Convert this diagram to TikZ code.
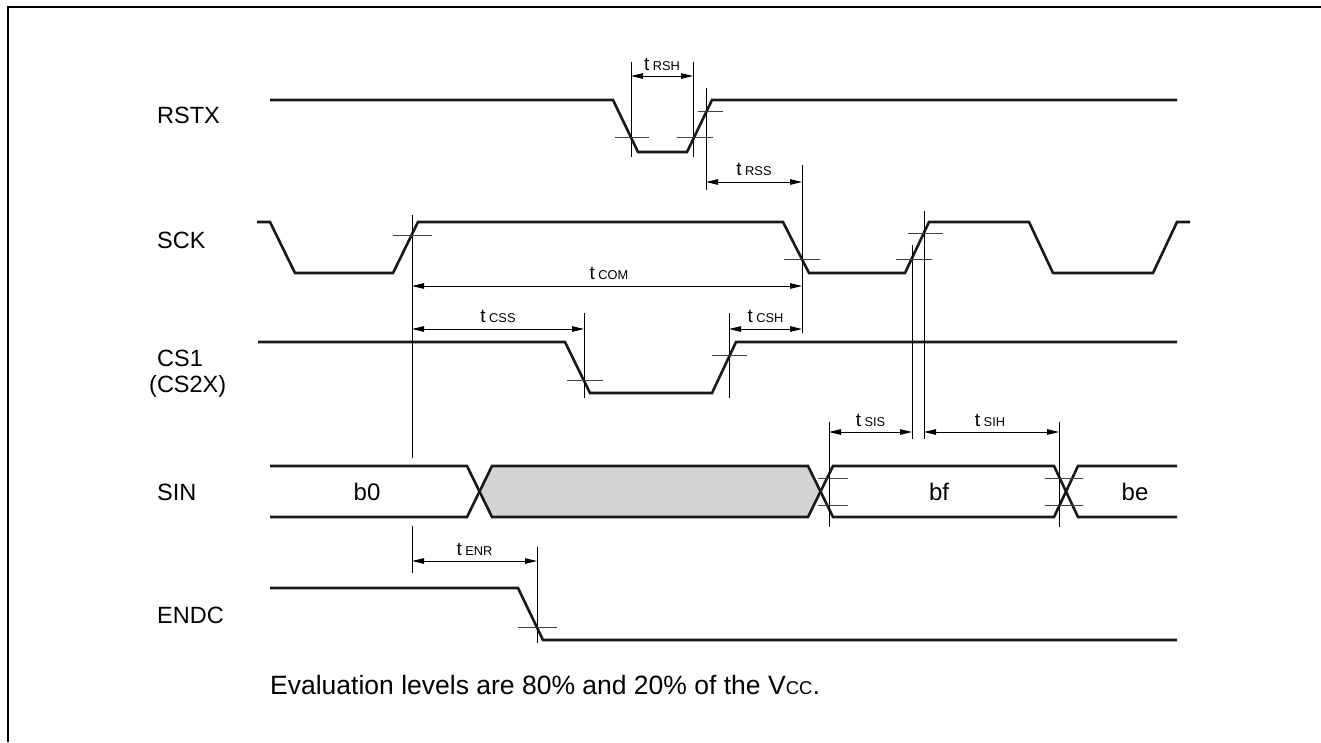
\documentclass[tikz,border=0pt]{standalone}
\usepackage{fontspec}
\setmainfont{Liberation Sans}
\usetikzlibrary{arrows.meta}
\newcommand\mytim[1]{{\fontsize{19}{21}\selectfont t}\hspace{3.5pt}{\fontsize{12.8}{14}\selectfont #1}}
\begin{document}
\begin{tikzpicture}[x=1pt,y=-1pt,
  sig/.style={line width=2.6pt, line join=miter, black!90},
  vline/.style={line width=0.9pt, black},
  tickm/.style={line width=0.9pt, black!75},
  dim/.style={line width=0.9pt, {Triangle[length=12pt,width=5.5pt]}-{Triangle[length=12pt,width=5.5pt]}},
  lbl/.style={font=\fontsize{23.5}{27}\selectfont, anchor=west, inner sep=0},
  tlab/.style={anchor=base, inner sep=0},
  bus/.style={font=\fontsize{24}{28}\selectfont, inner sep=0}]
\useasboundingbox (0,0) rectangle (1321,742);
\draw[line width=2pt] (8,742) -- (8,7) -- (1321,7);

% labels
\node[lbl] (lrstx) at (157,115) {RSTX};
\node[lbl] (lsck) at (157,240) {SCK};
\node[lbl] (lcs1) at (157,358) {CS1};
\node[lbl] (lcs2) at (149,386) {(CS2X)};
\node[lbl] (lsin) at (157,492) {SIN};
\node[lbl] (lendc) at (157,615) {ENDC};

% signals
\draw[sig] (270,100) -- (613,100) -- (638,152) -- (687,152) -- (712,100) -- (1177,100);
\draw[sig] (257,222) -- (270,222) -- (295,273) -- (393,273) -- (418,222) -- (783,222) -- (809,273) -- (905,273) -- (929,222) -- (1029,222) -- (1053,273) -- (1153,273) -- (1177,222) -- (1190,222);
\draw[sig] (258,342) -- (565,342) -- (590,393) -- (712,393) -- (736,342) -- (1177,342);
\fill[fill={rgb,255:red,211;green,212;blue,214}] (479.5,491.5) -- (492,466) -- (808,466) -- (820.5,491.5) -- (808,517) -- (492,517) -- cycle;
\draw[sig] (270,466) -- (467,466) -- (492,517) -- (808,517) -- (833,466) -- (1054,466) -- (1078,517) -- (1177,517);
\draw[sig] (270,517) -- (467,517) -- (492,466) -- (808,466) -- (833,517) -- (1054,517) -- (1078,466) -- (1177,466);
\draw[sig] (270,588) -- (518,588) -- (543,640) -- (1177,640);

\node[bus] (b0) at (367,492) {b0};
\node[bus] (bf) at (939,492) {bf};
\node[bus] (be) at (1135,492) {be};

% marker coordinates
\coordinate (rsh1t) at (631,62);  \coordinate (rsh1b) at (631,157);
\coordinate (rsh2t) at (693,62);  \coordinate (rsh2b) at (693,157);
\coordinate (rsst) at (706,88);   \coordinate (rssb) at (706,190);
\coordinate (comt) at (802,165);  \coordinate (comb) at (802,333);
\coordinate (ck1t) at (412,215);  \coordinate (ck1b) at (412,458);
\coordinate (ck1u) at (412,526);  \coordinate (ck1v) at (412,573);
\coordinate (sis2t) at (912,245); \coordinate (sis2b) at (912,439);
\coordinate (sih1t) at (924,211); \coordinate (sih1b) at (924,439);
\coordinate (csst) at (584,313);  \coordinate (cssb) at (584,398);
\coordinate (csht) at (729,313);  \coordinate (cshb) at (729,398);
\coordinate (sis1t) at (829,422); \coordinate (sis1b) at (829,527);
\coordinate (sih2t) at (1059,422);\coordinate (sih2b) at (1059,527);
\coordinate (enrt) at (537,547);  \coordinate (enrb) at (537,643);

\foreach \a/\b in {rsh1t/rsh1b, rsh2t/rsh2b, rsst/rssb, comt/comb, ck1t/ck1b, ck1u/ck1v, sis2t/sis2b, sih1t/sih1b, csst/cssb, csht/cshb, sis1t/sis1b, sih2t/sih2b, enrt/enrb}
  \draw[vline] (\a) -- (\b);

% level ticks
\draw[tickm] (615,137) -- (649,137);
\draw[tickm] (677,137) -- (713,137);
\draw[tickm] (698,111) -- (723,111);
\draw[tickm] (393,235) -- (432,235);
\draw[tickm] (784,259) -- (820,259);
\draw[tickm] (896,259) -- (932,259);
\draw[tickm] (908,233) -- (943,233);
\draw[tickm] (567,380) -- (603,380);
\draw[tickm] (712,355) -- (747,355);
\draw[tickm] (818,478) -- (848,478);
\draw[tickm] (818,505) -- (848,505);
\draw[tickm] (1045,478) -- (1083,478);
\draw[tickm] (1045,505) -- (1083,505);
\draw[tickm] (518,627) -- (557,627);

% dimension arrows
\coordinate (a1) at (631,76);  \coordinate (a2) at (693,76);
\coordinate (a3) at (706,182); \coordinate (a4) at (802,182);
\coordinate (a5) at (412,286); \coordinate (a6) at (802,286);
\coordinate (a7) at (412,329); \coordinate (a8) at (584,329);
\coordinate (a9) at (729,329); \coordinate (a10) at (802,329);
\coordinate (a11) at (829,432); \coordinate (a12) at (912,432);
\coordinate (a13) at (924,432); \coordinate (a14) at (1059,432);
\coordinate (a15) at (412,561); \coordinate (a16) at (537,561);
\draw[dim] (a1) -- (a2);
\draw[dim] (a3) -- (a4);
\draw[dim] (a5) -- (a6);
\draw[dim] (a7) -- (a8);
\draw[dim] (a9) -- (a10);
\draw[dim] (a11) -- (a12);
\draw[dim] (a13) -- (a14);
\draw[dim] (a15) -- (a16);

\node[tlab] (trsh) at (662,70) {\mytim{RSH}};
\node[tlab] (trss) at (754,175) {\mytim{RSS}};
\node[tlab] (tcom) at (609,279) {\mytim{COM}};
\node[tlab] (tcss) at (498,322) {\mytim{CSS}};
\node[tlab] (tcsh) at (765.5,322) {\mytim{CSH}};
\node[tlab] (tsis) at (870.5,426) {\mytim{SIS}};
\node[tlab] (tsih) at (990,426) {\mytim{SIH}};
\node[tlab] (tenr) at (474.5,555) {\mytim{ENR}};

\node[anchor=base west, inner sep=0, font=\fontsize{26.5}{30}\selectfont] (note) at (270,694) {Evaluation levels are 80\% and 20\% of the V{\fontsize{18.5}{20}\selectfont CC}.};
\end{tikzpicture}
\end{document}
